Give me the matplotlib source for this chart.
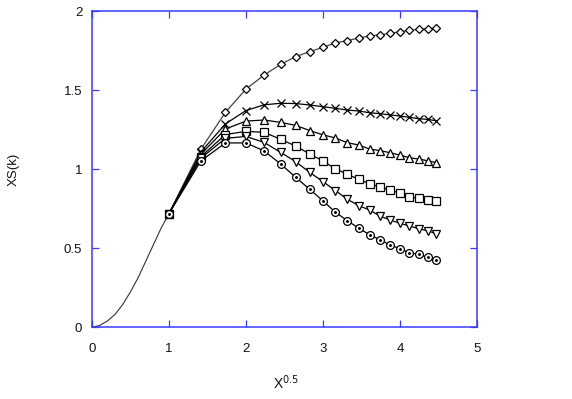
import numpy as np
import matplotlib
matplotlib.use('Agg')
import matplotlib.pyplot as plt

### Data
k = np.arange(1, 21)            # markers sit at X = 1..20
xs = np.sqrt(k)                 # plotted against X^0.5

curve_x = [0.0, 0.1, 0.2, 0.3, 0.4, 0.5, 0.6, 0.7, 0.8, 0.9, 1.0]
curve_y = [0.0, 0.012, 0.04, 0.082, 0.145, 0.225, 0.315, 0.42, 0.525, 0.63, 0.72]

diamond = [0.72, 1.127, 1.36, 1.508, 1.597, 1.664, 1.713, 1.745, 1.772, 1.80,
           1.815, 1.831, 1.844, 1.852, 1.86, 1.871, 1.88, 1.886, 1.889, 1.894]
cross = [0.72, 1.11, 1.287, 1.372, 1.408, 1.418, 1.416, 1.407, 1.396, 1.386,
         1.375, 1.369, 1.358, 1.352, 1.344, 1.337, 1.329, 1.320, 1.316, 1.307]
tri_up = [0.72, 1.095, 1.255, 1.305, 1.312, 1.297, 1.278, 1.245, 1.218, 1.198,
          1.168, 1.154, 1.128, 1.118, 1.105, 1.09, 1.073, 1.065, 1.054, 1.042]
square = [0.72, 1.08, 1.22, 1.24, 1.234, 1.19, 1.147, 1.097, 1.052, 1.004,
          0.968, 0.937, 0.908, 0.888, 0.869, 0.848, 0.827, 0.816, 0.805, 0.799]
tri_down = [0.72, 1.07, 1.196, 1.208, 1.17, 1.107, 1.048, 0.98, 0.922, 0.865,
            0.81, 0.77, 0.742, 0.704, 0.679, 0.658, 0.641, 0.624, 0.611, 0.592]
circle = [0.72, 1.053, 1.167, 1.167, 1.116, 1.034, 0.949, 0.873, 0.80, 0.728,
          0.675, 0.627, 0.586, 0.553, 0.521, 0.497, 0.472, 0.462, 0.443, 0.425]

xticks = [0, 1, 2, 3, 4, 5]
yticks = [0, 0.5, 1, 1.5, 2]
ylabels = ['0', '0.5', '1', '1.5', '2']

### Style
plt.rcParams['font.family'] = ['Liberation Sans', 'DejaVu Sans']
blue = '#3a3aff'

fig = plt.figure(figsize=(5.72, 3.99), dpi=100)
ax = fig.add_axes([92/572, 1 - 327.3/399, 385/572, 316/399])

ax.plot(curve_x, curve_y, color='#333333', lw=0.8, zorder=2)

series = [
    (diamond, 'D', 4.2, '#444444'),
    (cross, 'x', 6.0, 'black'),
    (tri_up, '^', 5.5, 'black'),
    (square, 's', 5.3, 'black'),
    (tri_down, 'v', 5.5, 'black'),
    (circle, 'o', 5.6, 'black'),
]
for ys, mk, ms, lc in series:
    ax.plot(xs, ys, color=lc, lw=0.9, marker=mk, ms=ms, mfc='white',
            mec='black', mew=0.9, zorder=3)
ax.plot(xs, circle, ls='none', marker='.', ms=2.2, color='black', zorder=4)

ax.set_xlim(0, 5)
ax.set_ylim(0, 2)
ax.set_xticks(xticks)
ax.set_xticklabels([str(v) for v in xticks])
ax.set_yticks(yticks)
ax.set_yticklabels(ylabels)

for sp in ax.spines.values():
    sp.set_color(blue)
    sp.set_linewidth(1.1)
ax.tick_params(direction='in', length=5, width=0.9, color=blue,
               top=True, right=True, labelsize=9.5, labelcolor='#111111')
ax.tick_params(axis='x', pad=11)
ax.tick_params(axis='y', pad=7)

fig.text(14/572, 0.5 * ((1 - 327.3/399) + (1 - 11.3/399)), 'XS(k)',
         rotation=90, ha='center', va='center', fontsize=9.5, color='#111111')
fig.text(286/572, 1 - 383/399, r'X$^{0.5}$', ha='center', va='center',
         fontsize=10, color='#111111')

fig.savefig('out.png', dpi=100)
